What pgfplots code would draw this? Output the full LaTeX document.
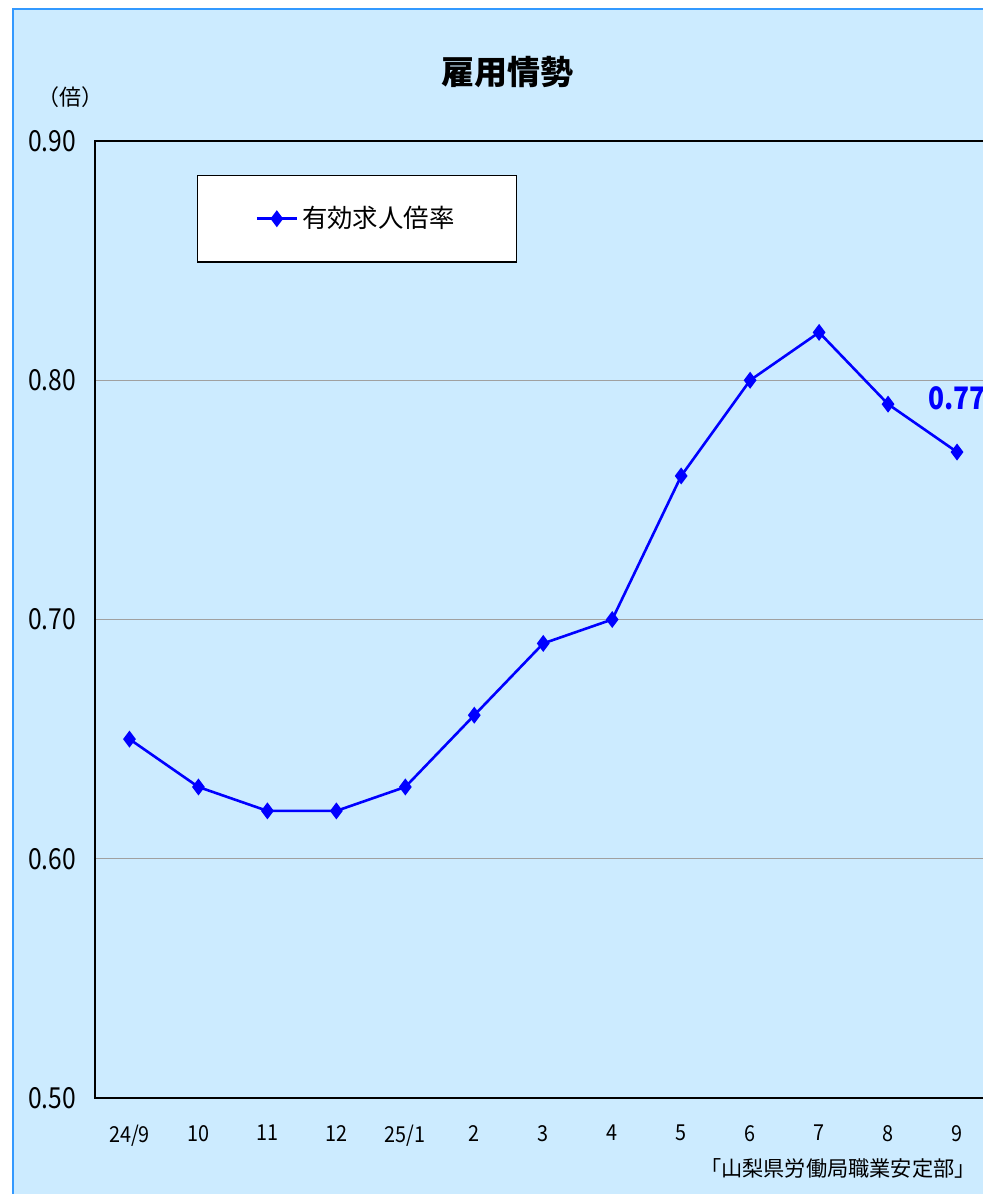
\documentclass[border=0pt]{standalone}
\usepackage{fontspec}
\setmainfont{Noto Sans CJK JP}
\newfontfamily\narrow{Noto Sans CJK JP}[FakeStretch=0.85]
\newfontfamily\tnarrow{Noto Sans CJK JP}[FakeStretch=0.9]
\usepackage{pgfplots}
\pgfplotsset{compat=1.18}
\definecolor{bgblue}{HTML}{CCEBFF}
\definecolor{frameblue}{HTML}{3399FF}
\definecolor{gridgray}{HTML}{A0A0A0}
\begin{document}
\begin{tikzpicture}
\useasboundingbox (0,0) rectangle (491.5pt,597pt);
\path[fill=bgblue,draw=frameblue,line width=1pt] (6.5pt,592.5pt) rectangle (520pt,-20pt);
\node[font=\fontsize{16.5}{18}\selectfont\bfseries] at (253.5pt,561pt) {雇用情勢};
\node[font=\fontsize{11}{12}\selectfont] at (35pt,548.5pt) {（倍）};
\node[font=\fontsize{10.6}{12}\selectfont,anchor=east,inner sep=0pt] at (488pt,13pt) {「山梨県労働局職業安定部」};
\begin{axis}[
  at={(47.5pt,48pt)}, anchor=south west,
  scale only axis, width=448.25pt, height=478.5pt,
  xmin=-0.5, xmax=12.5, ymin=0.5, ymax=0.9,
  xtick={0,...,12},
  xticklabels={24/9,10,11,12,25/1,2,3,4,5,6,7,8,9},
  ytick={0.5,0.6,0.7,0.8,0.9},
  yticklabel={\pgfmathprintnumber[fixed,fixed zerofill,precision=2]{\tick}},
  /pgf/number format/assume math mode=true,
  major tick length=0pt,
  ymajorgrids, grid style={gridgray,line width=0.5pt},
  axis line style={black,line width=0.7pt},
  yticklabel style={font=\narrow\fontsize{14.5}{16}\selectfont, xshift=-6pt},
  xticklabel style={font=\tnarrow\fontsize{11}{12}\selectfont, yshift=-10pt},
  axis background/.style={fill=bgblue},
  legend style={at={(0.1138,0.9645)}, anchor=north west, draw=black, line width=0.6pt, fill=white,
    inner xsep=29pt, inner ysep=13.5pt, font=\fontsize{12.7}{14}\selectfont},
  legend image code/.code={\draw[mark repeat=2,mark phase=2] plot coordinates {(0cm,0cm) (0.35cm,0cm) (0.7cm,0cm)};},
]
\addplot[blue, line width=1.3pt, mark=diamond*, mark size=3.6pt, mark options={fill=blue,line width=0.8pt}] coordinates {
(0,0.65) (1,0.63) (2,0.62) (3,0.62) (4,0.63) (5,0.66) (6,0.69) (7,0.70) (8,0.76) (9,0.80) (10,0.82) (11,0.79) (12,0.77)};
\addlegendentry{有効求人倍率}
\node[blue, font=\narrow\fontsize{15.5}{17}\selectfont\bfseries] at (axis cs:12,0.7926) {0.77};
\end{axis}
\end{tikzpicture}
\end{document}
